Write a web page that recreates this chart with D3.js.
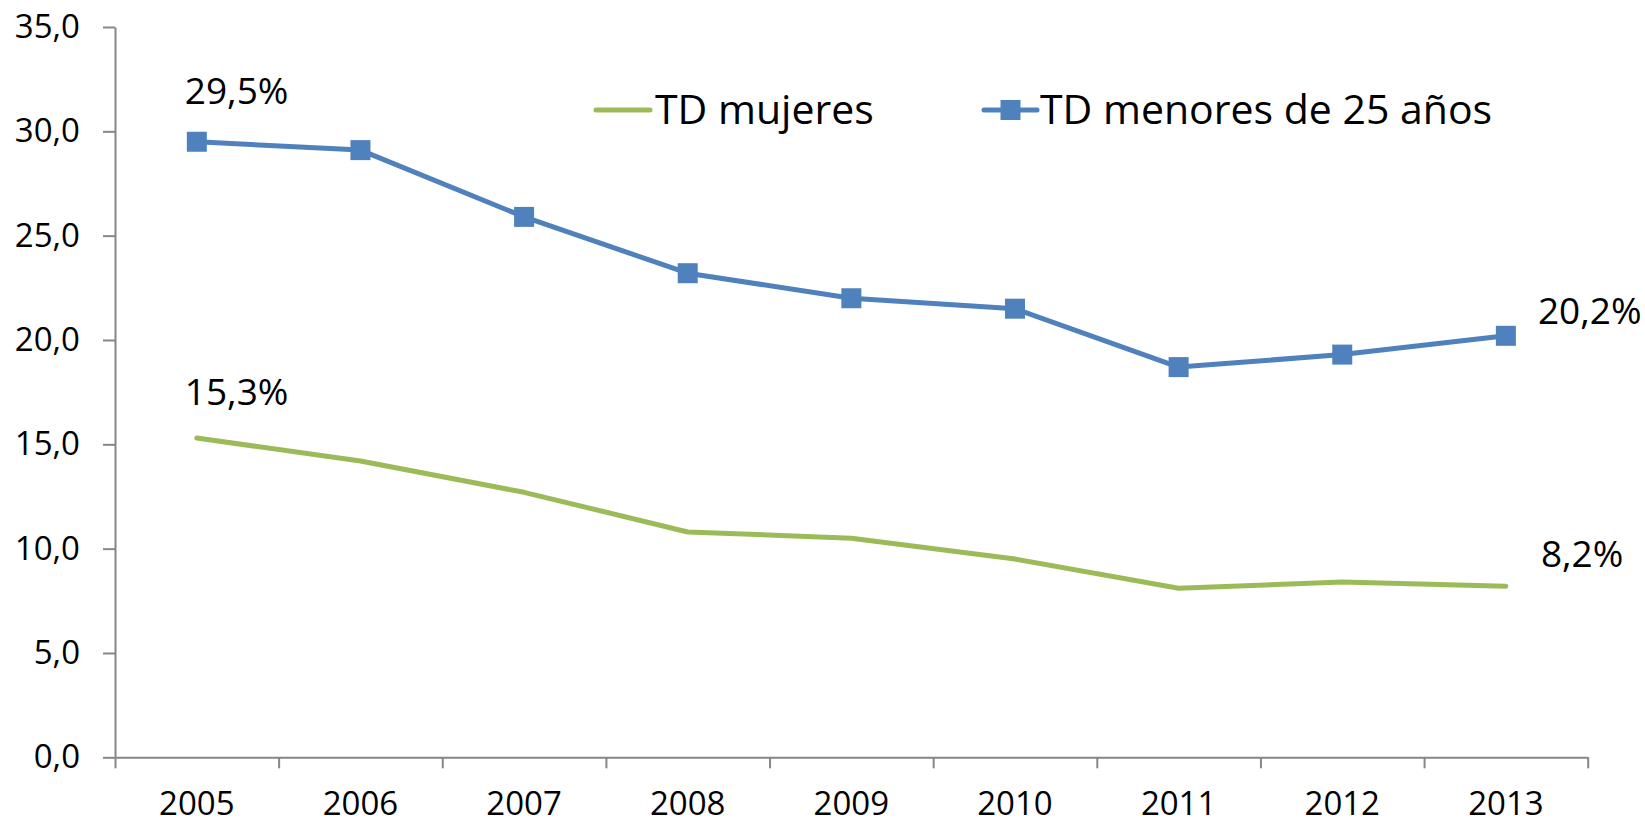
<!DOCTYPE html>
<html>
<head>
  <meta charset="utf-8">
  <title>TD mujeres y menores de 25 años</title>
  <script src="https://cdn.jsdelivr.net/npm/d3@7"></script>
<style>
body {
  margin: 0;
  background: #fff;
}
svg text {
  font-family: "Open Sans", sans-serif;
  fill: #000;
}
.axis path, .axis line {
  stroke: #868686;
  stroke-width: 2;
}
.axis text {
  font-size: 33px;
}
.lbl {
  font-size: 37px;
}
.legend text {
  font-size: 41px;
}
</style>
</head>
<body>
<svg width="1645" height="822"></svg>
<script>

// datos
var years = ["2005", "2006", "2007", "2008", "2009", "2010", "2011", "2012", "2013"];
var tdMujeres = [15.3, 14.2, 12.7, 10.8, 10.5, 9.5, 8.1, 8.4, 8.2];
var tdMenores25 = [29.5, 29.1, 25.9, 23.2, 22.0, 21.5, 18.7, 19.3, 20.2];
var yTicks = [0, 5, 10, 15, 20, 25, 30, 35];

var svg = d3.select("svg");

// plot area (window.top is reserved, so no "top" here)
var plotL = 115, plotR = 1587.7, plotT = 27, plotB = 757.3;

var x = d3.scaleBand()
    .domain(years)
    .range([plotL, plotR]);

// boundaries between categories, for the tick marks
var xb = d3.scaleLinear()
    .domain([0, years.length])
    .range([plotL, plotR]);

var y = d3.scaleLinear()
    .domain([0, 35])
    .range([plotB, plotT]);

var cx = function(i) { return x(years[i]) + x.bandwidth() / 2; };

// axes
svg.append("g")
    .attr("class", "axis")
    .attr("transform", "translate(" + plotL + ",0)")
    .call(d3.axisLeft(y)
      .tickValues(yTicks)
      .tickSize(12)
      .tickSizeOuter(0)
      .tickPadding(23)
      .tickFormat(function(d) { return d.toFixed(1).replace(".", ","); }));

svg.append("g")
    .attr("class", "axis")
    .attr("transform", "translate(0," + plotB + ")")
    .call(d3.axisBottom(xb)
      .tickValues(d3.range(0, years.length + 1))
      .tickSize(11)
      .tickSizeOuter(0)
      .tickFormat(""));

svg.append("g")
    .attr("class", "axis")
    .attr("transform", "translate(0," + plotB + ")")
    .call(d3.axisBottom(x)
      .tickSize(0)
      .tickPadding(34.6))
    .call(function(g) { g.select(".domain").remove(); });

// lines
var line = d3.line()
    .x(function(d, i) { return cx(i); })
    .y(function(d) { return y(d); });

svg.append("path")
    .datum(tdMujeres)
    .attr("fill", "none")
    .attr("stroke", "#9bbb59")
    .attr("stroke-width", 5)
    .attr("stroke-linejoin", "round")
    .attr("stroke-linecap", "round")
    .attr("d", line);

svg.append("path")
    .datum(tdMenores25)
    .attr("fill", "none")
    .attr("stroke", "#4f81bd")
    .attr("stroke-width", 5)
    .attr("stroke-linejoin", "round")
    .attr("d", line);

svg.selectAll(".sq")
    .data(tdMenores25)
    .enter().append("rect")
      .attr("class", "sq")
      .attr("x", function(d, i) { return cx(i) - 10; })
      .attr("y", function(d) { return y(d) - 10; })
      .attr("width", 20)
      .attr("height", 20)
      .attr("fill", "#4f81bd");

// data labels (first and last)
var fmt = function(v) { return v.toFixed(1).replace(".", ",") + "%"; };
var last = years.length - 1;

svg.append("text").attr("class", "lbl")
    .attr("x", cx(0) - 12).attr("y", y(tdMenores25[0]) - 38)
    .text(fmt(tdMenores25[0]));
svg.append("text").attr("class", "lbl")
    .attr("x", cx(0) - 12).attr("y", y(tdMujeres[0]) - 33)
    .text(fmt(tdMujeres[0]));
svg.append("text").attr("class", "lbl")
    .attr("x", cx(last) + 32).attr("y", y(tdMenores25[last]) - 12)
    .text(fmt(tdMenores25[last]));
svg.append("text").attr("class", "lbl")
    .attr("x", cx(last) + 35).attr("y", y(tdMujeres[last]) - 19)
    .text(fmt(tdMujeres[last]));

// legend
var lg = svg.append("g").attr("class", "legend");

lg.append("line")
    .attr("x1", 596).attr("x2", 650).attr("y1", 110).attr("y2", 110)
    .attr("stroke", "#9bbb59").attr("stroke-width", 5).attr("stroke-linecap", "round");
lg.append("text").attr("x", 655).attr("y", 124).text("TD mujeres");

lg.append("line")
    .attr("x1", 984).attr("x2", 1037).attr("y1", 110).attr("y2", 110)
    .attr("stroke", "#4f81bd").attr("stroke-width", 5).attr("stroke-linecap", "round");
lg.append("rect")
    .attr("x", 1000.5).attr("y", 100).attr("width", 20).attr("height", 20)
    .attr("fill", "#4f81bd");
lg.append("text").attr("x", 1040).attr("y", 124).text("TD menores de 25 años");

</script>
</body>
</html>
